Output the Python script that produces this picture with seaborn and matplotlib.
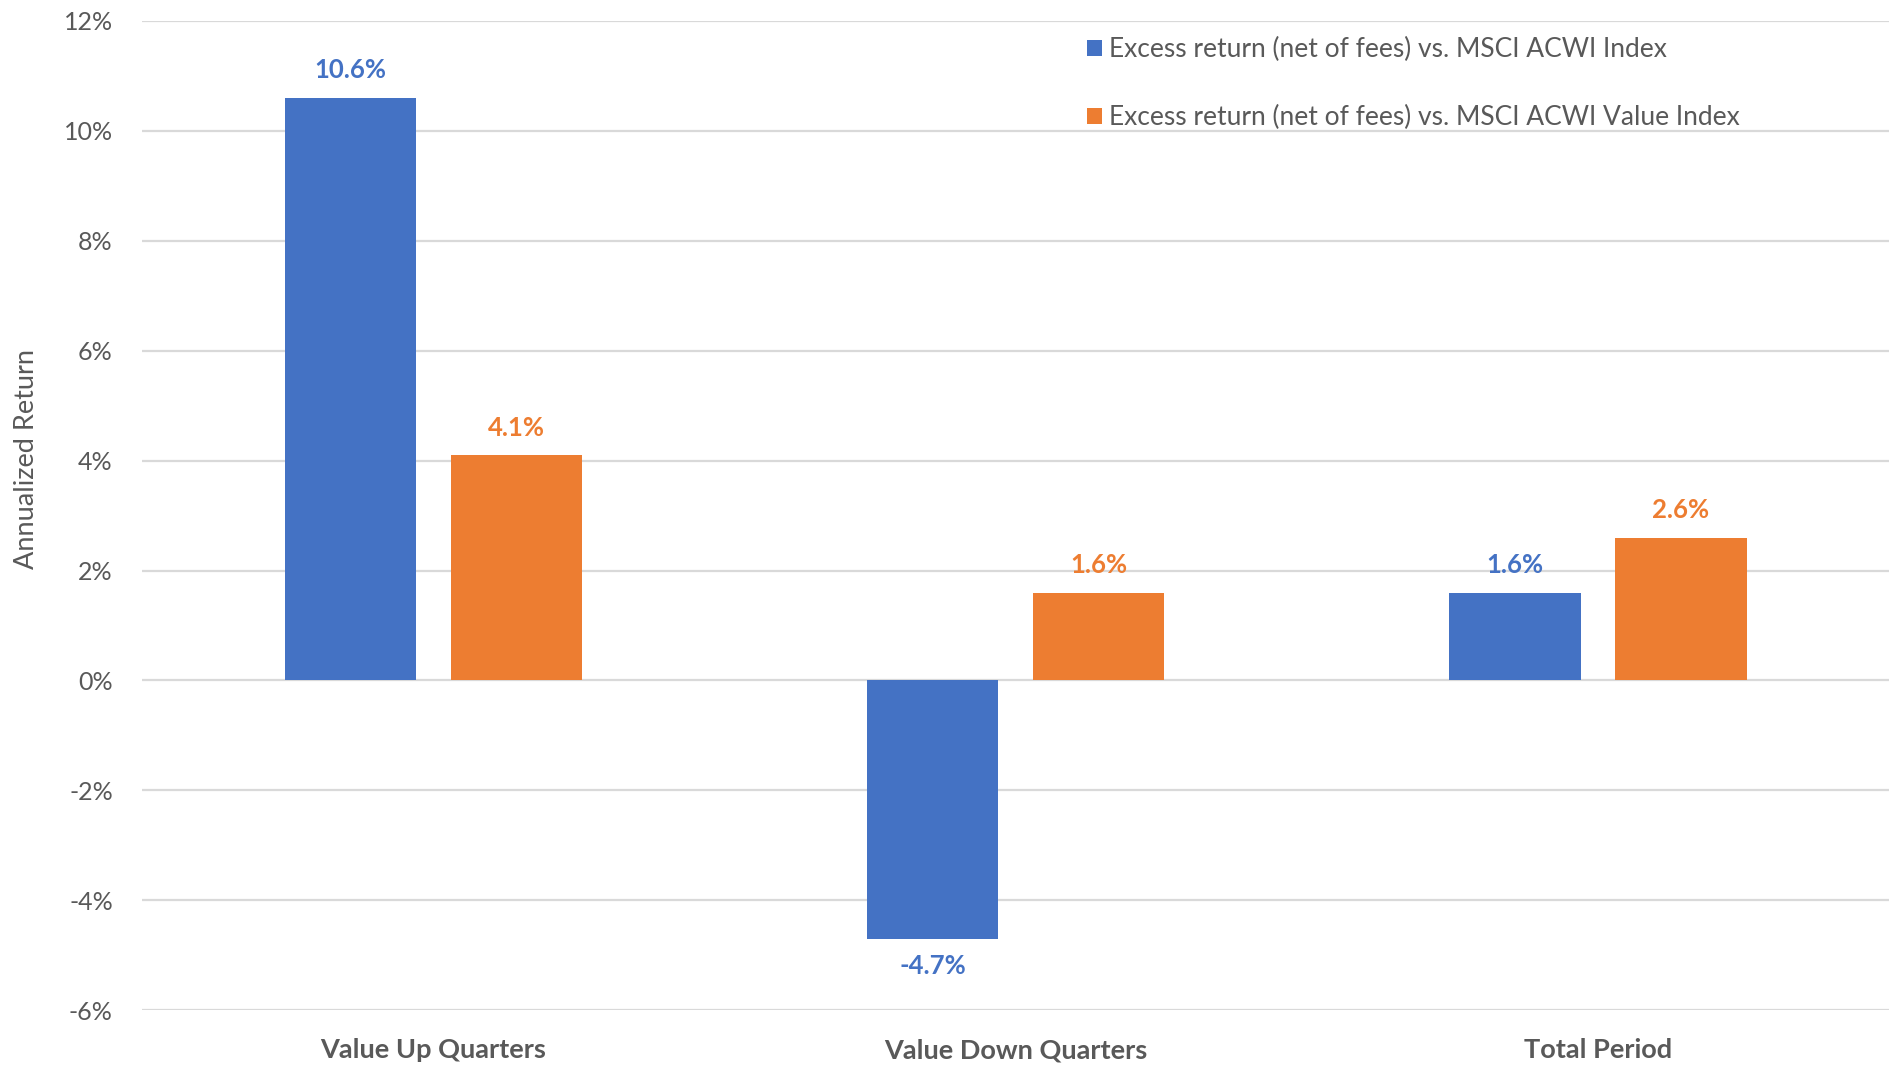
import matplotlib
matplotlib.use("Agg")
import matplotlib.pyplot as plt
import seaborn as sns
import pandas as pd
from matplotlib.ticker import FuncFormatter

# Chart data
categories = ["Value Up Quarters", "Value Down Quarters", "Total Period"]
series_names = [
    "Excess return (net of fees) vs. MSCI ACWI Index",
    "Excess return (net of fees) vs. MSCI ACWI Value Index",
]
acwi_excess = [10.6, -4.7, 1.6]
acwi_value_excess = [4.1, 1.6, 2.6]
y_ticks = [-6, -4, -2, 0, 2, 4, 6, 8, 10, 12]
y_label = "Annualized Return"

colors = ["#4472C4", "#ED7D31"]
text_gray = "#595959"
grid_gray = "#D9D9D9"

df = pd.DataFrame({
    "Category": categories * 2,
    "Series": [series_names[0]] * 3 + [series_names[1]] * 3,
    "Return": acwi_excess + acwi_value_excess,
})

sns.set_theme(style="whitegrid")
plt.rcParams["font.family"] = ["Lato", "DejaVu Sans"]

fig = plt.figure(figsize=(18.93, 10.65), dpi=100)
ax = fig.add_axes([0.075, 0.0512, 0.923, 0.9295])

sns.barplot(
    data=df, x="Category", y="Return", hue="Series", order=categories,
    hue_order=series_names, palette=colors, width=0.57, gap=0.21,
    saturation=1, ax=ax, edgecolor="none", linewidth=0,
)

ax.set_xlim(-0.5, 2.5)
ax.set_ylim(-6, 12)
ax.set_yticks(y_ticks)
ax.yaxis.set_major_formatter(FuncFormatter(lambda v, _: f"{v:.0f}%"))
ax.grid(axis="y", color=grid_gray, linewidth=1.6)
ax.grid(axis="x", visible=False)
ax.set_axisbelow(True)
for s in ax.spines.values():
    s.set_visible(False)

ax.tick_params(axis="y", length=0, pad=21, labelsize=18, labelcolor=text_gray)
ax.tick_params(axis="x", length=0, pad=20, labelsize=19.5, labelcolor=text_gray)
for lbl in ax.get_xticklabels():
    lbl.set_fontweight("bold")

ax.set_xlabel("")
ax.set_ylabel(y_label, fontsize=19.5, color=text_gray)
ax.yaxis.set_label_coords(-0.0587, 0.557)

# Value labels above/below each bar
for container, col in zip(ax.containers, colors):
    ax.bar_label(container, labels=[f"{v:.1f}%" for v in container.datavalues],
                 padding=11, fontsize=18.5, fontweight="bold", color=col)

handles, labels = ax.get_legend_handles_labels()
leg = ax.legend(
    handles, labels, loc="upper left", bbox_to_anchor=(1087 / 1893, 1 - 37 / 1065),
    bbox_transform=fig.transFigure, frameon=False, fontsize=19,
    handlelength=0.55, handleheight=0.55, handletextpad=0.3,
    labelspacing=1.64, borderpad=0, borderaxespad=0,
)
for t in leg.get_texts():
    t.set_color(text_gray)

fig.savefig("out.png", dpi=100, facecolor="white")
